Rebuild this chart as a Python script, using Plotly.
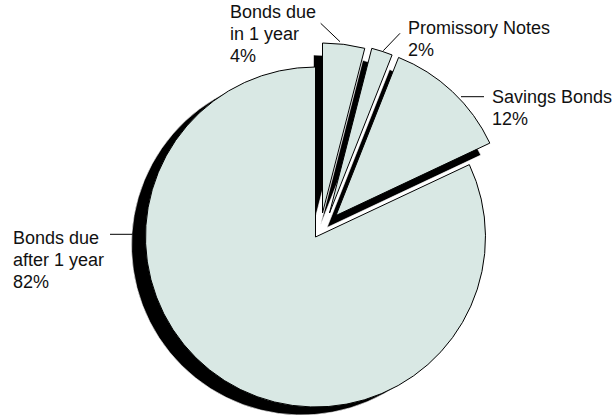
import plotly.graph_objects as go

W, H = 616, 418

# --- data -------------------------------------------------------------
categories = ["Bonds due in 1 year", "Promissory Notes", "Savings Bonds", "Bonds due after 1 year"]
values = [4, 2, 12, 82]
label_text = [
    ["Bonds due", "in 1 year"],
    ["Promissory Notes"],
    ["Savings Bonds"],
    ["Bonds due", "after 1 year"],
]

# --- styling / layout (pixels from the top-left corner) ---------------
FILL = "#d9e8e4"
RADIUS = 170
# apex of each wedge: the 82% slice stays in place, the others are exploded
apex = [(322.5, 213), (329.5, 213), (336, 215.5), (315.5, 237)]
MAIN = 3
main_shadow_shift = (-14, 8)
piece_shadow_shift = (-9, 12)

# label block: left edge, centre of first line; leader line endpoints
label_anchor = [(227.5, 12), (405.7, 28), (490, 97), (10.7, 238.3)]
LINE_STEP = 22
leaders = [
    ((320.7, 23.3), (340, 41.7)),
    ((400, 33.3), (383.3, 50.7)),
    ((461, 96.7), (484, 96.7)),
    ((110, 234.3), (132.5, 234.3)),
]


def domain_for(cx, cy):
    return dict(
        x=[(cx - RADIUS) / W, (cx + RADIUS) / W],
        y=[1 - (cy + RADIUS) / H, 1 - (cy - RADIUS) / H],
    )


def wedge(idx, cx, cy, fill, line_color, line_width):
    n = len(values)
    colors = ["rgba(0,0,0,0)"] * n
    colors[idx] = fill
    lcol = ["rgba(0,0,0,0)"] * n
    lcol[idx] = line_color
    lw = [0] * n
    lw[idx] = line_width
    return go.Pie(
        labels=categories,
        values=values,
        sort=False,
        direction="clockwise",
        rotation=0,
        domain=domain_for(cx, cy),
        marker=dict(colors=colors, line=dict(color=lcol, width=lw)),
        textinfo="none",
        hoverinfo="label+percent",
        showlegend=False,
    )


traces = []
# drop shadows first
for i, (ax, ay) in enumerate(apex):
    sx, sy = main_shadow_shift if i == MAIN else piece_shadow_shift
    traces.append(wedge(i, ax + sx, ay + sy, "black", "white", 0.6))
# the undisturbed large slice, then the exploded ones on top
traces.append(wedge(MAIN, *apex[MAIN], FILL, "black", 1))
for i, (ax, ay) in enumerate(apex):
    if i != MAIN:
        traces.append(wedge(i, ax, ay, FILL, "black", 1))

fig = go.Figure(traces)

font = dict(family="Liberation Sans, Arial, sans-serif", size=18, color="#111111")
annotations = []
for lines, v, (lx, ly) in zip(label_text, values, label_anchor):
    for k, txt in enumerate(lines + [f"{v}%"]):
        annotations.append(dict(
            x=lx / W, y=1 - (ly + k * LINE_STEP) / H, xref="paper", yref="paper",
            text=txt, showarrow=False, xanchor="left", yanchor="middle", font=font,
        ))

shapes = [
    dict(type="line", xref="paper", yref="paper",
         x0=a[0] / W, y0=1 - a[1] / H, x1=b[0] / W, y1=1 - b[1] / H,
         line=dict(color="black", width=1))
    for a, b in leaders
]

fig.update_layout(
    width=W, height=H,
    margin=dict(l=0, r=0, t=0, b=0),
    paper_bgcolor="white", plot_bgcolor="white",
    annotations=annotations, shapes=shapes,
)

fig.write_html("out.html")
